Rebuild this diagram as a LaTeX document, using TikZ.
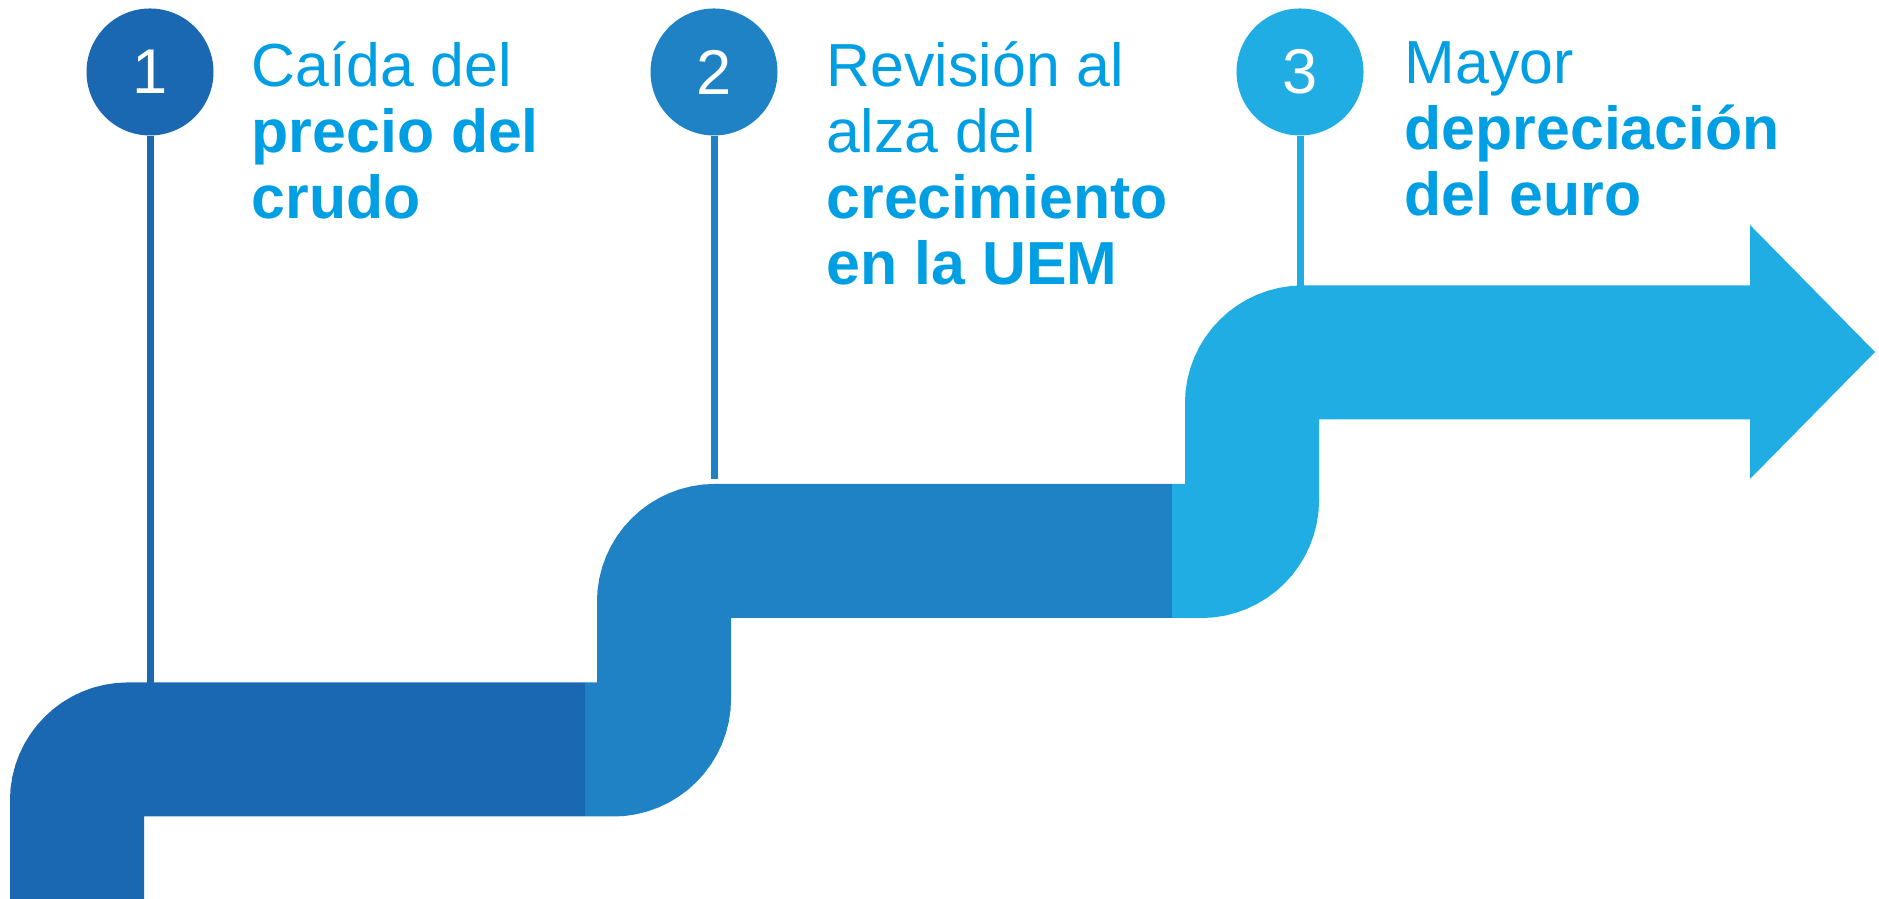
\documentclass[tikz,border=0pt]{standalone}
\usepackage{fontspec}
\setmainfont{Liberation Sans}
\definecolor{stepone}{RGB}{27,104,178}
\definecolor{steptwo}{RGB}{30,130,197}
\definecolor{stepthree}{RGB}{32,173,227}
\definecolor{notecol}{RGB}{0,159,227}

\begin{document}
\begin{tikzpicture}[every node/.style={font=\fontsize{17.3}{18.8}\selectfont, align=left},
  band/.style={line width=1.34cm, rounded corners=0.51cm},
  bubble/.style={circle, minimum size=1.27cm, inner sep=0pt, text=white, font=\fontsize{18}{18}\selectfont},
  stem/.style={line width=0.07cm},
  note/.style={anchor=north west, inner sep=0pt, text=notecol}]
  \useasboundingbox (0,0) rectangle (18.79,8.99);

  % Stepped band
  \draw[band, stepone] (0.77,0) -- (0.77,1.495) -- (5.85,1.495);
  \draw[band, steptwo] (5.85,1.495) -- (6.64,1.495) -- (6.64,3.48) -- (11.72,3.48);
  \draw[band, stepthree] (11.72,3.48) -- (12.52,3.48) -- (12.52,5.465) -- (17.50,5.465);
  \fill[stepthree] (17.50,6.74) -- (18.75,5.47) -- (17.50,4.20) -- cycle;

  % Numbered markers
  \node[bubble, fill=stepone] (one) at (1.50,8.27) {1};
  \node[bubble, fill=steptwo] (two) at (7.14,8.27) {2};
  \node[bubble, fill=stepthree] (three) at (13.00,8.27) {3};
  \coordinate (onefoot) at (1.50,2.16);
  \coordinate (twofoot) at (7.14,4.20);
  \coordinate (threefoot) at (13.00,6.13);
  \draw[stem, stepone] (one) -- (onefoot);
  \draw[stem, steptwo] (two) -- (twofoot);
  \draw[stem, stepthree] (three) -- (threefoot);

  % Labels
  \node[note] (crudo) at (2.51,8.58) {Caída del\\\textbf{precio del}\\\textbf{crudo}};
  \node[note] (uem) at (8.26,8.58) {Revisión al\\alza del\\\textbf{crecimiento}\\\textbf{en la UEM}};
  \node[note] (euro) at (14.04,8.58) {Mayor\\\textbf{depreciación}\\\textbf{del euro}};
\end{tikzpicture}
\end{document}
